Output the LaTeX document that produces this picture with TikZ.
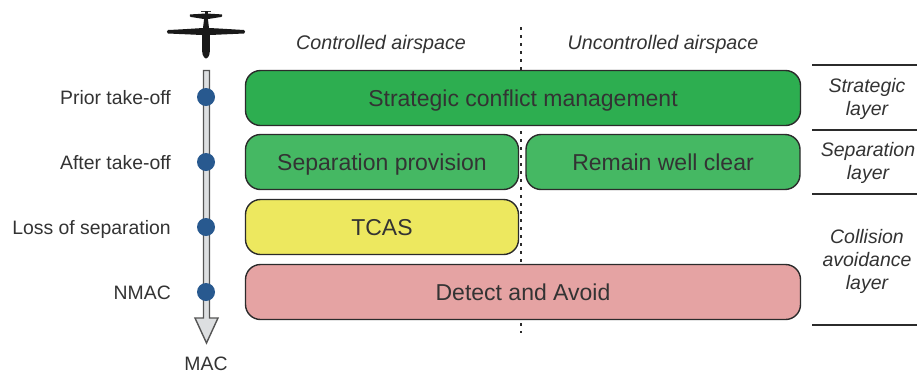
\documentclass[tikz,border=0pt]{standalone}
\usepackage{fontspec}
\setmainfont{Liberation Sans}
\definecolor{txt}{HTML}{333333}
\definecolor{edge}{HTML}{2B2B2B}
\definecolor{dgreen}{HTML}{2DAE50}
\definecolor{lgreen}{HTML}{45B863}
\definecolor{tyellow}{HTML}{EDE85F}
\definecolor{tred}{HTML}{E5A3A3}
\definecolor{tblue}{HTML}{28598F}
\definecolor{shaft}{HTML}{DDDFE1}
\definecolor{shaftedge}{HTML}{555555}
\tikzset{
  layerbox/.style={draw=edge,line width=1.4pt,rounded corners=15pt,inner sep=0pt,font=\fontsize{23}{27}\selectfont,text=txt,text height=16.6pt,text depth=0pt},
  sidelabel/.style={font=\fontsize{19.4}{23}\selectfont,text=txt,anchor=east,inner sep=0pt,text height=14pt,text depth=0pt},
  zonelabel/.style={font=\fontsize{19.7}{23}\selectfont\itshape,text=txt,inner sep=0pt,text height=14pt,text depth=0pt},
  layerlabel/.style={font=\fontsize{19.5}{23}\selectfont\itshape,text=txt,align=center,inner sep=0pt},
  tick/.style={fill=tblue,draw=none,circle,minimum size=18pt,inner sep=0pt},
  rulebar/.style={draw=edge,line width=1.4pt}
}
\begin{document}
\begin{tikzpicture}[x=1pt,y=-1pt]
\useasboundingbox (0,0) rectangle (917,373);
% divider
\coordinate (divtop) at (521,27);
\coordinate (divbot) at (521,333);
\draw[edge,line width=1.6pt,dash pattern=on 3pt off 5pt] (divtop) -- (divbot);
% boxes
\node[layerbox,fill=dgreen,minimum width=555pt,minimum height=55pt] (strategic) at (523,98) {Strategic conflict management};
\node[layerbox,fill=lgreen,minimum width=273pt,minimum height=55pt] (sep) at (382,162) {Separation provision};
\node[layerbox,fill=lgreen,minimum width=274pt,minimum height=55pt] (rwc) at (663,162) {Remain well clear};
\node[layerbox,fill=tyellow,minimum width=273pt,minimum height=55pt] (tcas) at (382,227) {TCAS};
\node[layerbox,fill=tred,minimum width=555pt,minimum height=55pt] (daa) at (523,292) {Detect and Avoid};
% zone labels
\node[zonelabel] (ca) at (381,42) {Controlled airspace};
\node[zonelabel] (ua) at (663,42) {Uncontrolled airspace};
% arrow
\draw[shaftedge,fill=shaft,line width=1.4pt,line join=miter]
  (203.5,70.5) -- (209.5,70.5) -- (209.5,318) -- (218,318) -- (206.5,343) -- (195,318) -- (203.5,318) -- cycle;
% ticks
\node[tick] (t1) at (206,97) {};
\node[tick] (t2) at (206,162) {};
\node[tick] (t3) at (206,227) {};
\node[tick] (t4) at (206,292) {};
\node[sidelabel] (l1) at (171,97) {Prior take-off};
\node[sidelabel] (l2) at (171,162) {After take-off};
\node[sidelabel] (l3) at (171,227) {Loss of separation};
\node[sidelabel] (l4) at (171,292) {NMAC};
\node[font=\fontsize{19.4}{23}\selectfont,text=txt,inner sep=0pt,text height=14pt,text depth=0pt] (mac) at (206,363) {MAC};
% plane
\fill[black!90]
  (168,30) .. controls (180,29.5) and (195,28.5) .. (203,28) -- (204.2,18) -- (207.8,18) -- (209,28)
  .. controls (220,28.5) and (235,29.5) .. (244,30)
  .. controls (245.5,31) and (245.5,32.5) .. (244,33.5)
  -- (210,35) -- (209.8,46) .. controls (210.5,53) and (209,58) .. (206,58.5)
  .. controls (203,58) and (201.5,53) .. (202.2,46) -- (202,35) -- (168,33.5)
  .. controls (166.5,32.5) and (166.5,31) .. (168,30) -- cycle;
\fill[black!90]
  (190,14.5) .. controls (195,14) and (201,14) .. (204,13.5) -- (208,13.5) .. controls (212,14) and (218,14) .. (222,14.5)
  .. controls (222.5,16) and (222,17) .. (221,17)
  .. controls (217,17.5) and (212,18.5) .. (208,19) -- (204,19) .. controls (200,18.5) and (195,17.5) .. (191,17)
  .. controls (190,17) and (189.5,16) .. (190,14.5) -- cycle;
\draw[black!80,line width=.7pt] (201,11.5) -- (211,11.5);
\fill[black!90] (204.5,10.5) rectangle (207.5,14);
% right rules
\coordinate (r0a) at (812,65); \coordinate (r0b) at (917,65);
\coordinate (r1a) at (812,130); \coordinate (r1b) at (917,130);
\coordinate (r2a) at (812,194); \coordinate (r2b) at (917,194);
\coordinate (r3a) at (812,325); \coordinate (r3b) at (917,325);
\draw[rulebar] (r0a) -- (r0b);
\draw[rulebar] (r1a) -- (r1b);
\draw[rulebar] (r2a) -- (r2b);
\draw[rulebar] (r3a) -- (r3b);
\node[layerlabel] (ls) at (867,99) {Strategic\\layer};
\node[layerlabel] (lp) at (868,163) {Separation\\layer};
\node[layerlabel] (lc) at (867,261) {Collision\\avoidance\\layer};
\end{tikzpicture}
\end{document}
